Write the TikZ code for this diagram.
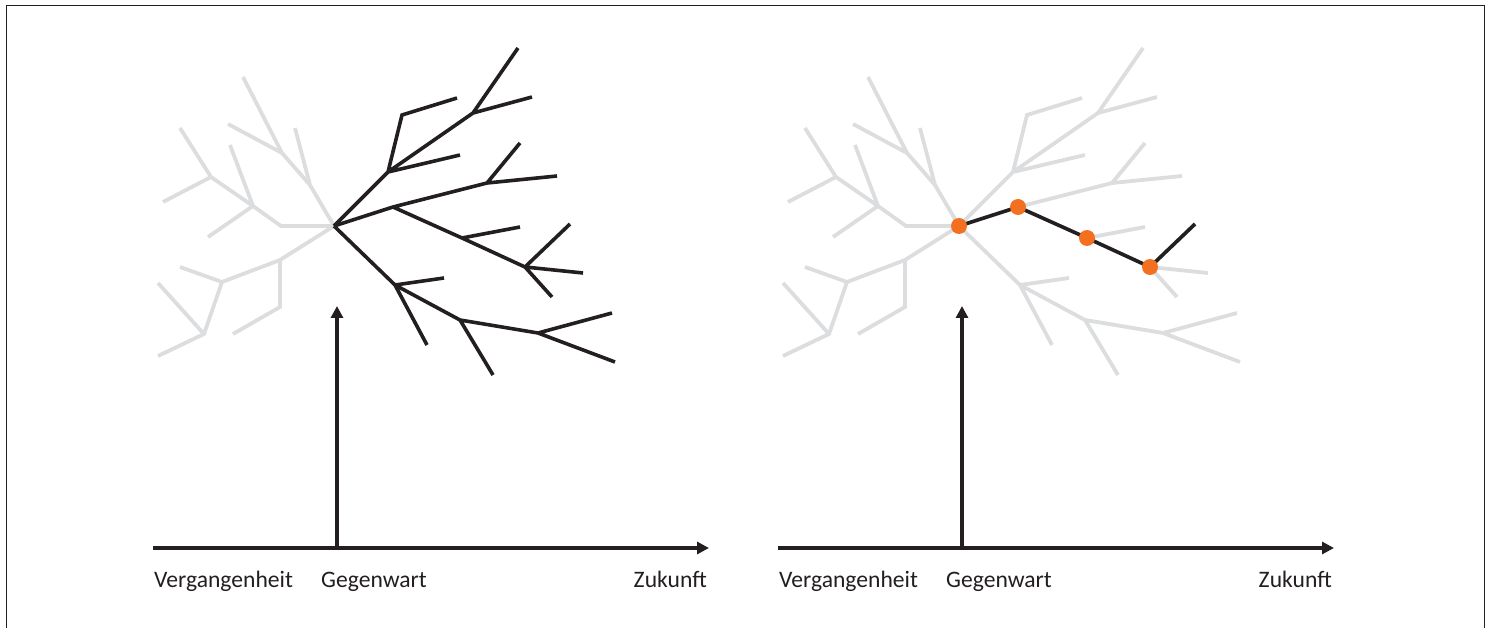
\documentclass[tikz,border=0pt]{standalone}
\usepackage{fontspec}
\setmainfont{Carlito}
\usetikzlibrary{arrows.meta}
\definecolor{ink}{HTML}{231F20}
\definecolor{faded}{HTML}{DCDDDE}
\definecolor{marker}{HTML}{F37021}

% branching tree of possible futures; #1 = style of the past part, #2 = style of the future part
\newcommand\branchtree[2]{%
  \coordinate (R) at (334,226);
  % past branches
  \coordinate (g1) at (281,226); \coordinate (g2) at (253,206);
  \coordinate (g3) at (211,177); \coordinate (g3a) at (180,128); \coordinate (g3b) at (163,202);
  \coordinate (g2a) at (230,145); \coordinate (g2b) at (208,237);
  \coordinate (g4) at (310,185); \coordinate (g4a) at (295,128);
  \coordinate (g5) at (282,153); \coordinate (g5a) at (243,77); \coordinate (g5b) at (228,124);
  \coordinate (g6) at (280,260); \coordinate (g7) at (280,307); \coordinate (g7a) at (233,334);
  \coordinate (g8) at (222,282); \coordinate (g8a) at (180,267);
  \coordinate (g9) at (204,334); \coordinate (g9a) at (158,283); \coordinate (g9b) at (158,356);
  % future branches
  \coordinate (A) at (388,172); \coordinate (B) at (402,115); \coordinate (B1) at (457,98);
  \coordinate (C) at (473,113); \coordinate (C1) at (518,48); \coordinate (C2) at (532,97);
  \coordinate (A1) at (460,155);
  \coordinate (D) at (393,207); \coordinate (E) at (487,183); \coordinate (E1) at (520,143);
  \coordinate (E2) at (557,176);
  \coordinate (F) at (462,238); \coordinate (F1) at (520,227);
  \coordinate (G) at (525,267); \coordinate (G1) at (570,224); \coordinate (G2) at (583,273);
  \coordinate (G3) at (552,297);
  \coordinate (H) at (395,285); \coordinate (H1) at (444,278); \coordinate (H2) at (427,345);
  \coordinate (I) at (460,320); \coordinate (I1) at (493,375);
  \coordinate (J) at (538,333); \coordinate (J1) at (612,313); \coordinate (J2) at (615,362);
  \draw[#1] (R) -- (g1) -- (g2) -- (g3) -- (g3a) (g3) -- (g3b) (g2) -- (g2a) (g2) -- (g2b);
  \draw[#1] (R) -- (g4) -- (g5) -- (g5a) (g5) -- (g5b) (g4) -- (g4a);
  \draw[#1] (R) -- (g6) -- (g8) -- (g9) -- (g9b) (g9) -- (g9a) (g8) -- (g8a) (g6) -- (g7) -- (g7a);
  \draw[#2] (R) -- (A) -- (C) -- (C1) (C) -- (C2) (A) -- (B) -- (B1) (A) -- (A1);
  \draw[#2] (R) -- (D) -- (F) -- (G) -- (G2) (D) -- (E) -- (E2) (E) -- (E1)
            (F) -- (F1) (G) -- (G1) (G) -- (G3);
  \draw[#2] (R) -- (H) -- (I) -- (J) -- (J2) (J) -- (J1) (I) -- (I1) (H) -- (H1) (H) -- (H2);
}

% time axis with the present marked by an upward arrow
\newcommand\timeaxis{%
  \coordinate (past) at (153,548);
  \coordinate (future) at (709,548);
  \coordinate (now) at (337,548);
  \coordinate (nowtip) at (337,306);
  \draw[axis] (past) -- (future);
  \draw[axis] (now) -- (nowtip);
  \node[label] (lpast) at (154,587) {Vergangenheit};
  \node[label] (lnow) at (321,587) {Gegenwart};
  \node[label, anchor=base east] (lfuture) at (707,587) {Zukunft};
}

\begin{document}
\begin{tikzpicture}[x=1pt, y=-1pt,
  pastline/.style={draw=faded, line width=3.8pt, line join=miter},
  futureline/.style={draw=ink, line width=3.6pt, line join=miter},
  fadedline/.style={draw=faded, line width=3.8pt, line join=miter},
  chosen/.style={draw=ink, line width=3.6pt, line join=miter},
  axis/.style={draw=ink, line width=3.3pt, -{Triangle[length=12pt, width=12pt]}},
  label/.style={text=ink, font=\fontsize{23.6}{27}\selectfont, inner sep=0pt, anchor=base west},
  dot/.style={circle, fill=marker, inner sep=0pt, minimum size=16pt}]
  \useasboundingbox (0,0) rectangle (1486,628);
  \draw[ink, line width=1.5pt] (6.5,628) -- (6.5,5.5) -- (1484.5,5.5) -- (1484.5,628);

  % left panel: all possible futures
  \begin{scope}[name prefix=l-]
    \branchtree{pastline}{futureline}
    \timeaxis
  \end{scope}

  % right panel: one realised path through the tree
  \begin{scope}[name prefix=r-, xshift=625pt]
    \branchtree{fadedline}{fadedline}
    \timeaxis
    \draw[chosen] (r-R) -- (r-D) -- (r-F) -- (r-G) -- (r-G1);
    \node[dot] (d0) at (r-R) {};
    \node[dot] (d1) at (r-D) {};
    \node[dot] (d2) at (r-F) {};
    \node[dot] (d3) at (r-G) {};
  \end{scope}
\end{tikzpicture}
\end{document}
